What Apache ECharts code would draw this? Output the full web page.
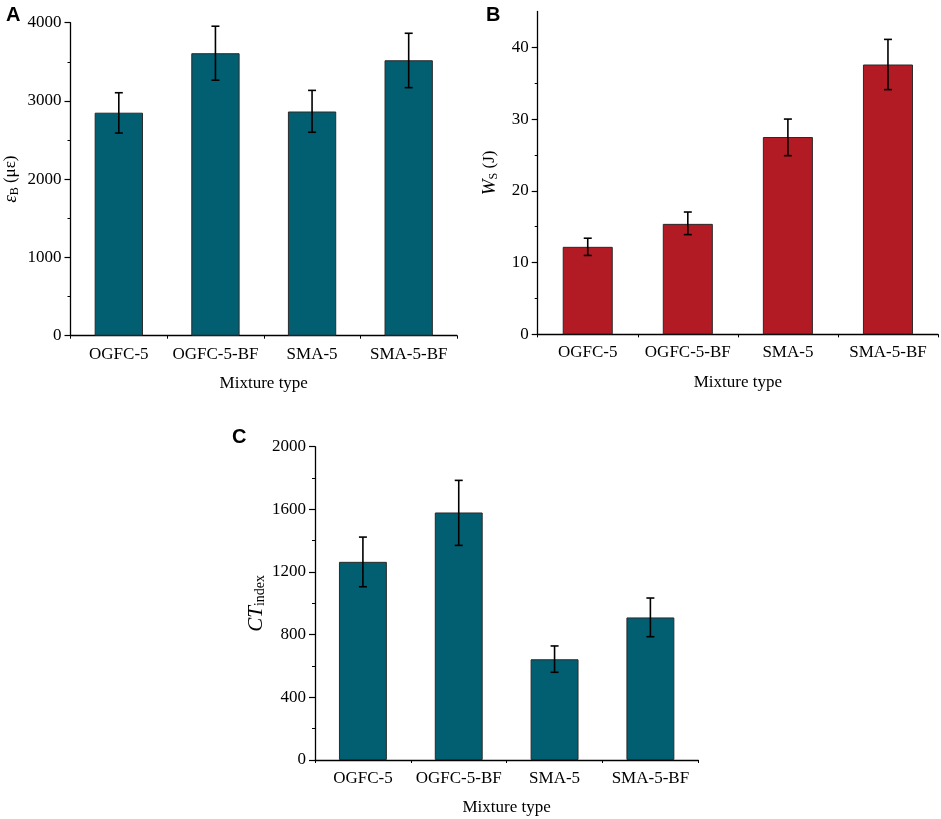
<!DOCTYPE html>
<html>
<head>
<meta charset="utf-8">
<script src="https://cdn.jsdelivr.net/npm/echarts@6/dist/echarts.min.js"></script>
<style>
html,body{margin:0;padding:0;background:#fff;}
#chart{width:941px;height:819px;}
</style>
</head>
<body>
<div id="chart"></div>
<script>
// ---- data ----
var categories = ['OGFC-5', 'OGFC-5-BF', 'SMA-5', 'SMA-5-BF'];

var strainValues = [2850, 3610, 2865, 3520];
var strainUpper  = [3105, 3955, 3135, 3865];
var strainLower  = [2590, 3265, 2600, 3170];
var strainMajorTicks = [0, 1000, 2000, 3000, 4000];
var strainMinorTicks = [500, 1500, 2500, 3500];

var workValues = [12.2, 15.4, 27.5, 37.6];
var workUpper  = [13.4, 17.05, 30.0, 41.1];
var workLower  = [11.0, 13.9, 24.9, 34.1];
var workMajorTicks = [0, 10, 20, 30, 40];
var workMinorTicks = [5, 15, 25, 35];

var ctValues = [1265, 1580, 643, 910];
var ctUpper  = [1423, 1785, 728, 1034];
var ctLower  = [1106, 1370, 560, 787];
var ctMajorTicks = [0, 400, 800, 1200, 1600, 2000];
var ctMinorTicks = [200, 600, 1000, 1400, 1800];

// ---- styling ----
var TEAL = '#015f71';
var RED = '#b21b23';
var SERIF = '"Liberation Serif", "Times New Roman", serif';
var SANS = '"Liberation Sans", Arial, sans-serif';
var FS = 17;

var charts = echarts.init(document.getElementById('chart'), null, {renderer: 'canvas'});

function makeX(gridIndex, nameGap) {
  return [
    {
      type: 'category', gridIndex: gridIndex, data: categories,
      name: 'Mixture type', nameLocation: 'middle', nameGap: nameGap,
      nameTextStyle: {fontFamily: SERIF, fontSize: FS, color: '#000'},
      axisLine: {lineStyle: {color: '#000', width: 1.3}},
      axisTick: {alignWithLabel: true, length: 6, lineStyle: {color: '#000', width: 1.2}},
      axisLabel: {fontFamily: SERIF, fontSize: FS, color: '#000', margin: 10, interval: 0},
      splitLine: {show: false}
    },
    {
      type: 'category', gridIndex: gridIndex, data: categories, position: 'bottom',
      axisLine: {show: false},
      axisTick: {show: true, length: 3, lineStyle: {color: '#000', width: 1}},
      axisLabel: {show: false},
      splitLine: {show: false}
    }
  ];
}

function makeY(gridIndex, max, major, minor, nameRich, nameGap, itSize, subSize) {
  return [
    {
      type: 'value', gridIndex: gridIndex, min: 0, max: max,
      name: nameRich, nameLocation: 'middle', nameGap: nameGap, nameRotate: 90,
      nameTextStyle: {
        fontFamily: SERIF, fontSize: FS, color: '#000',
        rich: {
          it: {fontFamily: SERIF, fontStyle: 'italic', fontSize: itSize, color: '#000'},
          n: {fontFamily: SERIF, fontSize: FS, color: '#000'},
          sub: {fontFamily: SERIF, fontSize: subSize, color: '#000', verticalAlign: 'bottom', padding: [8, 0, 0, 0]}
        }
      },
      axisLine: {show: true, lineStyle: {color: '#000', width: 1.3}},
      axisTick: {show: true, length: 6, customValues: major, lineStyle: {color: '#000', width: 1.2}},
      axisLabel: {fontFamily: SERIF, fontSize: FS, color: '#000', margin: 9, customValues: major,
        formatter: function (v) { return String(v); }},
      splitLine: {show: false}
    },
    {
      type: 'value', gridIndex: gridIndex, min: 0, max: max, position: 'left',
      axisLine: {show: false},
      axisTick: {show: true, length: 3, customValues: minor, lineStyle: {color: '#000', width: 1}},
      axisLabel: {show: false, customValues: minor},
      splitLine: {show: false}
    }
  ];
}

function barSeries(idx, values, color) {
  return {
    type: 'bar', xAxisIndex: idx * 2, yAxisIndex: idx * 2, data: values,
    barWidth: '50%',
    itemStyle: {color: color, borderColor: '#2a2a2a', borderWidth: 1},
    silent: true
  };
}

function errSeries(idx, lower, upper) {
  var data = categories.map(function (c, i) { return [i, lower[i], upper[i]]; });
  return {
    type: 'custom', xAxisIndex: idx * 2, yAxisIndex: idx * 2, data: data, z: 10,
    silent: true,
    renderItem: function (params, api) {
      var x = api.value(0);
      var lo = api.coord([x, api.value(1)]);
      var hi = api.coord([x, api.value(2)]);
      var hw = 4;
      var st = {stroke: '#000', lineWidth: 1.6};
      return {
        type: 'group',
        children: [
          {type: 'line', shape: {x1: lo[0], y1: lo[1], x2: hi[0], y2: hi[1]}, style: st},
          {type: 'line', shape: {x1: hi[0] - hw, y1: hi[1], x2: hi[0] + hw, y2: hi[1]}, style: st},
          {type: 'line', shape: {x1: lo[0] - hw, y1: lo[1], x2: lo[0] + hw, y2: lo[1]}, style: st}
        ]
      };
    }
  };
}

var xAxes = [].concat(makeX(0, 39), makeX(1, 40), makeX(2, 39));
var yAxes = [].concat(
  makeY(0, 4000, strainMajorTicks, strainMinorTicks, '{it|ε}{sub|B}{n| (με)}', 50, 19, 12),
  makeY(1, 45, workMajorTicks, workMinorTicks, '{it|W}{sub|S}{n| (J)}', 38, 19, 12),
  makeY(2, 2000, ctMajorTicks, ctMinorTicks, '{it|CT}{sub|index}', 48, 21, 14)
);

var option = {
  backgroundColor: '#fff',
  animation: false,
  title: [
    {text: 'A', left: 1, top: 0, textStyle: {fontFamily: SANS, fontWeight: 'bold', fontSize: 20, color: '#000'}},
    {text: 'B', left: 481, top: 0, textStyle: {fontFamily: SANS, fontWeight: 'bold', fontSize: 20, color: '#000'}},
    {text: 'C', left: 227, top: 422, textStyle: {fontFamily: SANS, fontWeight: 'bold', fontSize: 20, color: '#000'}}
  ],
  grid: [
    {left: 70, right: 484, top: 22.7, height: 313, containLabel: false},
    {left: 537.7, right: 3, top: 11.4, height: 323, containLabel: false},
    {left: 315, right: 242.7, top: 446.7, height: 313.3, containLabel: false}
  ],
  xAxis: xAxes,
  yAxis: yAxes,
  series: [
    barSeries(0, strainValues, TEAL), errSeries(0, strainLower, strainUpper),
    barSeries(1, workValues, RED), errSeries(1, workLower, workUpper),
    barSeries(2, ctValues, TEAL), errSeries(2, ctLower, ctUpper)
  ]
};
charts.setOption(option);
</script>
</body>
</html>
